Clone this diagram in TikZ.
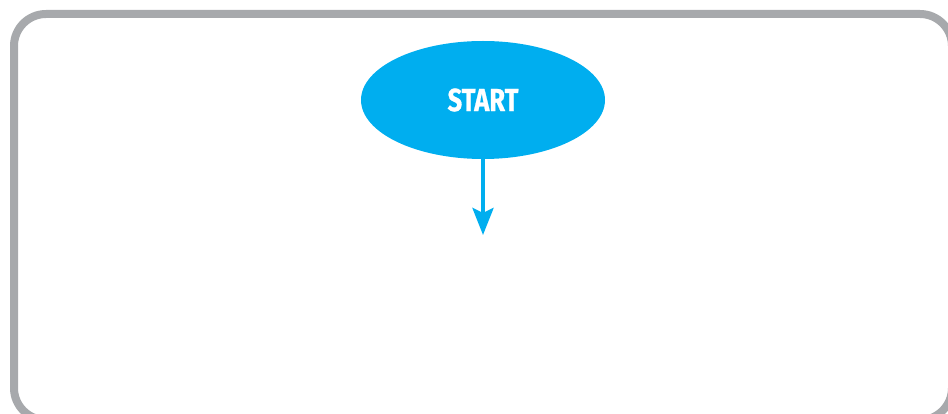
\documentclass[tikz,border=0pt]{standalone}
\usepackage{fontspec}
\usepackage{graphicx}
\setmainfont{Fira Sans}
\newfontfamily\startfont[FakeBold=0.8]{Fira Sans Bold}
\usetikzlibrary{shapes.geometric,arrows.meta}
\definecolor{bordergray}{HTML}{A7A9AC}
\definecolor{startblue}{HTML}{00AEEF}
\tikzset{
  frame/.style={draw=bordergray, line width=8pt, rounded corners=32pt},
  startnode/.style={ellipse, fill=startblue, minimum width=244pt, minimum height=118pt, inner sep=0pt,
    text=white, font=\startfont\fontsize{32}{32}\selectfont},
  flow/.style={draw=startblue, line width=4pt, -{Stealth[length=27pt,width=21pt,inset=5pt]}}
}
\begin{document}
\begin{tikzpicture}[x=1pt,y=-1pt]
\useasboundingbox (0,0) rectangle (948,414);
\draw[frame] (14,14) rectangle (952,420);
\node[startnode] (start) at (483,100) {\scalebox{0.8}[1]{START}};
\coordinate (end) at (483,235);
\draw[flow] (start.south) -- (end);
\end{tikzpicture}
\end{document}
